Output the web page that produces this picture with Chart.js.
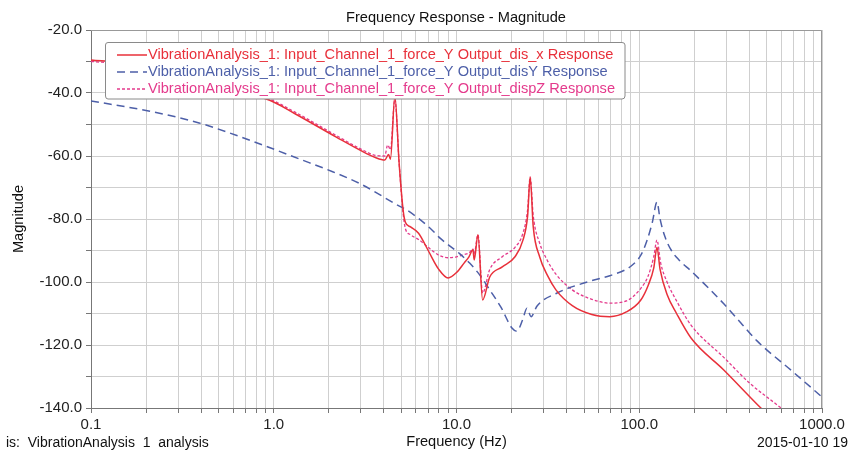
<!DOCTYPE html>
<html>
<head>
<meta charset="utf-8">
<script src="https://cdn.jsdelivr.net/npm/chart.js@4.4.1/dist/chart.umd.min.js"></script>
<style>
  html, body { margin: 0; padding: 0; background: #fff; }
  #wrap { width: 848px; height: 456px; }
</style>
</head>
<body>
<div id="wrap"><canvas id="fr" width="848" height="456"></canvas></div>
<script>
// Output_dis_x (red, solid)
const freqX = [0.1, 0.15, 0.25, 0.4, 0.6, 0.95, 1.3, 2.2, 3.0, 3.6, 4.05, 4.25, 4.35, 4.6, 4.85, 5.1, 5.25, 5.6, 6.2, 7.0, 8.0, 9.0, 10.0, 11.0, 11.7, 12.3, 12.5, 13.1, 13.9, 15.2, 17.8, 20.9, 23.1, 24.5, 25.3, 26.3, 28.5, 31.5, 35, 43, 55, 69, 85, 102, 112, 120, 125, 130, 142, 160, 192, 291, 463, 700];
const magX  = [-29.5, -30.5, -33, -36.5, -39.5, -42.3, -46.5, -54, -58.3, -60.5, -61.3, -59.5, -61, -41, -62, -77, -81, -82.5, -84.5, -90, -96, -98.7, -97, -94, -92, -89.8, -93, -85, -105.7, -98.4, -95.2, -92, -86.7, -79, -66.7, -82.5, -92, -98, -102.5, -107.5, -110.3, -111, -109.5, -105.7, -101, -95.6, -89, -96, -104, -110, -117.8, -128, -140, -150];

// Output_disY (blue, dashed)
const freqY = [0.1, 0.21, 0.39, 0.74, 1.39, 2.1, 2.97, 4.9, 5.3, 7.2, 8.1, 10.4, 11.8, 13.5, 15.2, 17.5, 20.1, 21.4, 23, 24.3, 25.6, 27.6, 35.5, 54, 69, 90, 102, 110, 118, 125, 130, 138, 150, 165, 192, 240, 291, 360, 441, 677, 1000];
const magY  = [-42.5, -45.8, -49.5, -55, -61, -65, -68.8, -76, -77, -83, -86, -91, -94, -98, -102.5, -108, -114.6, -115.6, -112, -108.3, -111, -107.6, -103.5, -99.7, -98, -95, -91.5, -87, -81, -74.6, -80, -85.5, -90, -93, -96.5, -102, -107, -113, -118.7, -128, -136.5];

// Output_dispZ (pink, dotted)
const freqZ = [0.1, 0.15, 0.25, 0.4, 0.6, 0.95, 1.3, 2.2, 3.0, 3.6, 4.05, 4.2, 4.35, 4.6, 4.85, 5.1, 5.25, 5.6, 6.2, 7.0, 8.0, 9.0, 10.0, 11.0, 11.7, 12.3, 12.5, 13.1, 13.9, 15.2, 17.8, 20.9, 23.1, 24.5, 25.3, 26.3, 28.5, 31.3, 35, 43, 55, 69, 85, 102, 112, 120, 125, 131, 142, 160, 192, 291, 400, 597, 800];
const magZ  = [-30, -30.8, -33.3, -36.5, -39.5, -42, -46, -53.5, -57.8, -59.8, -60, -56.5, -58, -42, -62, -78, -83, -85, -86.5, -89, -91.5, -92.3, -92, -91.3, -90.8, -89.5, -91, -85, -103.5, -96, -92, -89, -84.5, -77, -66.7, -79, -87.6, -93, -97.5, -102.5, -105.5, -106.7, -106, -102, -98, -92, -86.7, -94, -100, -106, -113.7, -124, -132, -140, -146];

const seriesLabels = [
  'VibrationAnalysis_1: Input_Channel_1_force_Y Output_dis_x Response',
  'VibrationAnalysis_1: Input_Channel_1_force_Y Output_disY Response',
  'VibrationAnalysis_1: Input_Channel_1_force_Y Output_dispZ Response'
];

const decades = [0.1, 1, 10, 100, 1000];
const yMin = -140, yMax = -20, yStep = 10;

const FONT = '"Liberation Sans", Arial, sans-serif';

function toPoints(fs, ms) {
  return fs.map((f, i) => ({ x: f, y: ms[i] }));
}

// minor log ticks 1..9 per decade
const xTicks = [];
decades.forEach((d, i) => {
  if (i === decades.length - 1) { xTicks.push(d); return; }
  for (let m = 1; m <= 9; m++) xTicks.push(+(m * d).toPrecision(6));
});

// draws title, footer texts, frame and boxed legend
const extras = {
  id: 'extras',
  afterDatasetsDraw(chart) {
    const c = chart.ctx;
    const a = chart.chartArea;
    c.save();
    c.strokeStyle = '#999';
    c.lineWidth = 1;
    c.beginPath();
    c.moveTo(a.left, a.top + 0.5);
    c.lineTo(a.right - 0.5, a.top + 0.5);
    c.lineTo(a.right - 0.5, a.bottom);
    c.stroke();

    // legend box
    const lx = 105, ly = 42, lw = 520, lh = 57, r = 3;
    c.fillStyle = '#fff';
    c.strokeStyle = '#8a8a8a';
    c.beginPath();
    c.moveTo(lx + r, ly + 0.5);
    c.lineTo(lx + lw - r, ly + 0.5);
    c.quadraticCurveTo(lx + lw, ly + 0.5, lx + lw, ly + r);
    c.lineTo(lx + lw, ly + lh - r);
    c.quadraticCurveTo(lx + lw, ly + lh, lx + lw - r, ly + lh);
    c.lineTo(lx + r, ly + lh);
    c.quadraticCurveTo(lx + 0.5, ly + lh, lx + 0.5, ly + lh - r);
    c.lineTo(lx + 0.5, ly + r);
    c.quadraticCurveTo(lx + 0.5, ly + 0.5, lx + r, ly + 0.5);
    c.closePath();
    c.fill();
    c.stroke();

    c.font = '14.6px ' + FONT;
    c.textBaseline = 'middle';
    c.textAlign = 'left';
    chart.data.datasets.forEach((ds, i) => {
      const y = 55 + i * 17;
      c.strokeStyle = ds.borderColor;
      c.lineWidth = ds.borderWidth;
      c.setLineDash(ds.borderDash || []);
      c.beginPath();
      c.moveTo(117, y);
      c.lineTo(147, y);
      c.stroke();
      c.setLineDash([]);
      c.fillStyle = ds.borderColor;
      c.fillText(ds.label, 148, y);
    });
    c.restore();
  },
  afterDraw(chart) {
    const c = chart.ctx;
    c.save();
    c.fillStyle = '#111';
    c.font = '14.6px ' + FONT;
    c.textBaseline = 'middle';
    c.textAlign = 'center';
    c.fillText('Frequency Response - Magnitude', 456, 18);
    c.font = '14px ' + FONT;
    c.textAlign = 'left';
    c.fillText('is:  VibrationAnalysis  1  analysis', 6, 443);
    c.textAlign = 'right';
    c.fillText('2015-01-10 19', 848, 443);
    c.restore();
  }
};

const ctx = document.getElementById('fr').getContext('2d');

new Chart(ctx, {
  type: 'line',
  data: {
    datasets: [
      {
        label: seriesLabels[0],
        data: toPoints(freqX, magX),
        borderColor: '#e8303a',
        borderWidth: 1.5,
        pointRadius: 0,
        fill: false,
        cubicInterpolationMode: 'monotone'
      },
      {
        label: seriesLabels[1],
        data: toPoints(freqY, magY),
        borderColor: '#4d5fa8',
        borderWidth: 1.5,
        borderDash: [8, 5],
        pointRadius: 0,
        fill: false,
        cubicInterpolationMode: 'monotone'
      },
      {
        label: seriesLabels[2],
        data: toPoints(freqZ, magZ),
        borderColor: '#e43a8c',
        borderWidth: 1.3,
        borderDash: [3, 2],
        pointRadius: 0,
        fill: false,
        cubicInterpolationMode: 'monotone'
      }
    ]
  },
  options: {
    responsive: false,
    animation: false,
    layout: { padding: { top: 30, right: 26, left: 0, bottom: 0 } },
    plugins: {
      legend: { display: false },
      tooltip: { enabled: false }
    },
    scales: {
      x: {
        type: 'logarithmic',
        min: 0.1,
        max: 1000,
        afterBuildTicks: (s) => { s.ticks = xTicks.map(v => ({ value: v })); },
        afterFit: (s) => { s.height = 48; },
        ticks: {
          autoSkip: false,
          maxRotation: 0,
          padding: 3,
          color: '#222',
          font: { family: FONT, size: 15 },
          callback: (v) => {
            const l = Math.log10(v);
            return Math.abs(l - Math.round(l)) < 1e-9 ? Number(v).toFixed(1) : '';
          }
        },
        grid: { color: '#cfcfcf', tickColor: '#777', tickLength: 5 },
        border: { color: '#777' },
        title: {
          display: true,
          text: 'Frequency (Hz)',
          color: '#111',
          font: { family: FONT, size: 14.6 },
          padding: { top: 0, bottom: 5 }
        }
      },
      y: {
        min: yMin,
        max: yMax,
        afterFit: (s) => { s.width = 91; },
        ticks: {
          stepSize: yStep,
          padding: 4,
          color: '#222',
          font: { family: FONT, size: 15 },
          callback: (v) => (v % 20 === 0 ? Number(v).toFixed(1) : '')
        },
        grid: { color: '#cfcfcf', tickColor: '#777', tickLength: 5 },
        border: { color: '#777' },
        title: {
          display: true,
          text: 'Magnitude',
          color: '#111',
          font: { family: FONT, size: 14.6 },
          padding: { top: 10, bottom: 0 }
        }
      }
    }
  },
  plugins: [extras]
});
</script>
</body>
</html>
